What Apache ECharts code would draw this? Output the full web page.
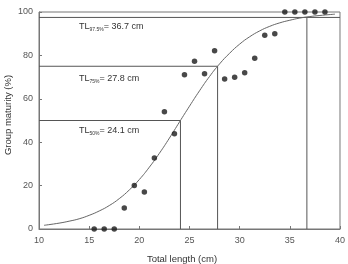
<!DOCTYPE html>
<html><head><meta charset="utf-8">
<script src="https://cdn.jsdelivr.net/npm/echarts@6/dist/echarts.min.js"></script>
<style>html,body{margin:0;padding:0;background:#fff}#c{width:348px;height:264px}</style>
</head><body><div id="c"></div>
<script>
// observed data (total length cm, group maturity %)
const obsLength = [15.5,16.5,17.5,18.5,19.5,20.5,21.5,22.5,23.5,24.5,25.5,26.5,27.5,28.5,29.5,30.5,31.5,32.5,33.5,34.5,35.5,36.5,37.5,38.5];
const obsMaturity = [0,0,0,9.7,20.1,17.0,32.7,54.0,43.9,71.1,77.3,71.6,82.2,69.1,69.9,72.0,78.7,89.3,90.0,100,100,100,100,100];
// fitted curve
const curveLength = [10.5,12,13,14,15,16,17,18,19,20,21,22,23,24,25,26,27,28,29,30,31,32,33,34,35,36,37,38,39.5];
const curveMaturity = [1.7,2.7,3.6,4.7,6.3,8.3,10.8,14.0,18.0,22.8,28.5,34.9,41.9,49.3,56.6,63.7,70.3,76.1,81.0,85.2,88.6,91.3,93.4,95.0,96.2,97.2,97.9,98.4,99.0];
// threshold lines
const thrPercent = [50,75,97.5];
const thrLength = [24.1,27.8,36.7];
const thrHorizEnd = [24.1,27.8,40];
const thrLabels = ['50%','75%','97.5%'];
const xTicks = [10,15,20,25,30,35,40];
const yTicks = [0,20,40,60,80,100];

const chart = echarts.init(document.getElementById('c'));
const lineCol = '#555';
const font = 'Liberation Sans, Arial, sans-serif';
const series = [];
thrPercent.forEach((p,i)=>{
  series.push({type:'line', data:[[10,p],[thrHorizEnd[i],p]], symbol:'none', lineStyle:{color:lineCol,width:1}, silent:true, z:1});
  series.push({type:'line', data:[[thrLength[i],0],[thrLength[i],p]], symbol:'none', lineStyle:{color:lineCol,width:1}, silent:true, z:1});
});
series.push({type:'line', data:curveLength.map((x,i)=>[x,curveMaturity[i]]), smooth:true, symbol:'none', lineStyle:{color:'#666',width:1}, z:2});
series.push({type:'scatter', data:obsLength.map((x,i)=>[x,obsMaturity[i]]), symbolSize:5.5, itemStyle:{color:'#1a1a1a'}, z:3});

const labelY = [130,78,26];
const graphics = thrPercent.map((p,i)=>({
  type:'text', left:79, top:labelY[i]-4,
  style:{rich:{a:{fontSize:9,fontFamily:font,fill:'#333'},s:{fontSize:5,fontFamily:font,fill:'#333',padding:[6,0,0,0]}},
    text:'{a|TL}{s|'+thrLabels[i]+'}{a|= '+thrLength[i].toFixed(1)+' cm}'}
}));
graphics.push({type:'text', x:182, y:259, style:{text:'Total length (cm)', fontSize:9.5, fontFamily:font, fill:'#333', align:'center', verticalAlign:'middle'}});
graphics.push({type:'text', x:8, y:115, rotation:Math.PI/2, style:{text:'Group maturity (%)', fontSize:9.5, fontFamily:font, fill:'#333', align:'center', verticalAlign:'middle'}});

chart.setOption({
  animation:false,
  backgroundColor:'#fff',
  grid:{left:39,right:7,top:12,bottom:35,show:true,borderColor:'#777',borderWidth:1},
  xAxis:{type:'value',min:10,max:40,interval:5,
    axisLine:{lineStyle:{color:'#777'}},axisTick:{inside:true,length:3,lineStyle:{color:'#777'}},
    axisLabel:{fontSize:9,fontFamily:font,color:'#555',margin:7},splitLine:{show:false}},
  yAxis:{type:'value',min:0,max:100,interval:20,
    axisLine:{show:true,lineStyle:{color:'#777'}},axisTick:{show:true,inside:true,length:3,lineStyle:{color:'#777'}},
    axisLabel:{fontSize:9,fontFamily:font,color:'#555',margin:6},splitLine:{show:false}},
  graphic:graphics,
  series:series
});
</script></body></html>
